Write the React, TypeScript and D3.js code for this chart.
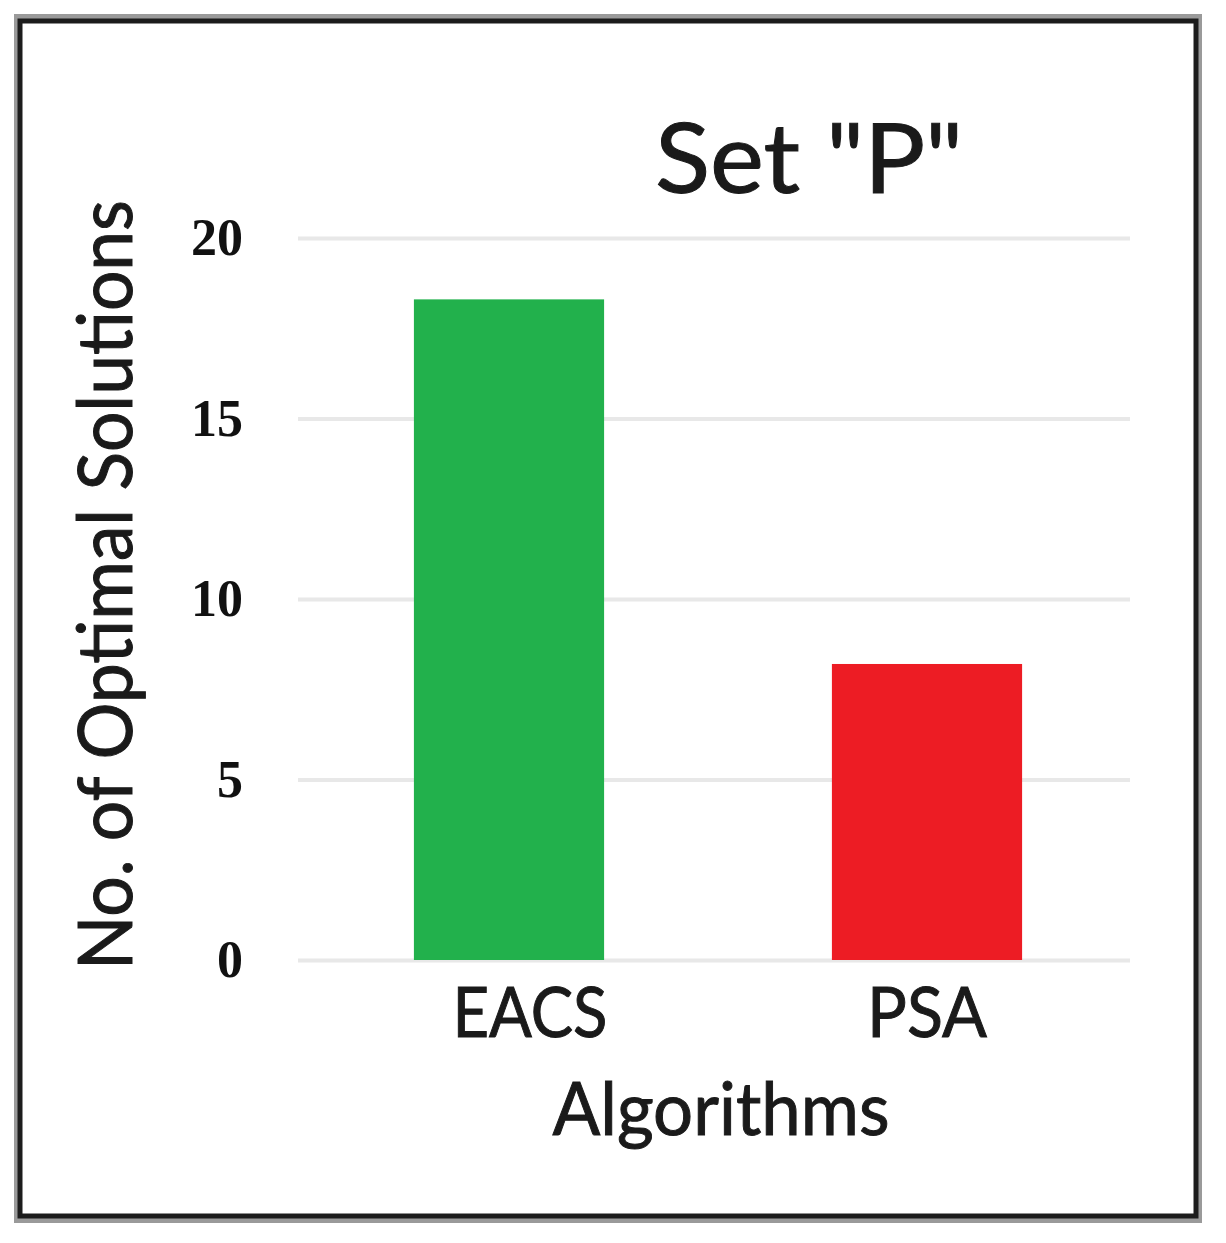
import React, { useEffect, useRef } from 'react';
import * as d3 from 'd3';

const categories = ['EACS', 'PSA'];
const values = [18.3, 8.2];
const barColors = ['#22b14c', '#ed1c24'];
const yTicks = [0, 5, 10, 15, 20];
const chartTitle = 'Set "P"';
const xTitle = 'Algorithms';
const yTitle = 'No. of Optimal Solutions';

const App = () => {
  const ref = useRef<SVGSVGElement>(null);

  useEffect(() => {
    const svg = d3.select(ref.current);
    svg.selectAll('*').remove();

    const W = 1226;
    const H = 1243;
    const sans = 'Lato, "Open Sans", sans-serif';
    const ink = '#1a1a1a';

    svg.append('rect').attr('width', W).attr('height', H).attr('fill', '#fff');

    // frame
    svg.append('rect')
      .attr('x', 18).attr('y', 18).attr('width', 1180).attr('height', 1201)
      .attr('fill', 'none').attr('stroke', '#9a9a9a').attr('stroke-width', 8);
    svg.append('rect')
      .attr('x', 20).attr('y', 21).attr('width', 1176).attr('height', 1195)
      .attr('fill', 'none').attr('stroke', '#1c1c1c').attr('stroke-width', 5);

    const x = d3.scaleBand()
      .domain(categories)
      .range([300, 1136])
      .paddingInner(0.545)
      .paddingOuter(0.2725);

    const y = d3.scaleLinear().domain([0, 20]).range([960, 238]);

    // gridlines
    const grid = svg.append('g')
      .attr('transform', 'translate(298,0)')
      .call(d3.axisLeft(y).tickValues(yTicks).tickSize(-832).tickFormat(() => ''));
    grid.select('.domain').remove();
    grid.selectAll('line').attr('stroke', '#e8e8e8').attr('stroke-width', 4);

    // tick labels
    const axis = svg.append('g')
      .attr('transform', 'translate(298,0)')
      .call(d3.axisLeft(y).tickValues(yTicks).tickSize(0).tickPadding(55));
    axis.select('.domain').remove();
    axis.selectAll('text')
      .attr('font-family', '"Liberation Serif", serif')
      .attr('font-weight', 'bold')
      .attr('font-size', 52)
      .attr('fill', '#111');

    // bars
    svg.selectAll('.bar')
      .data(categories)
      .enter()
      .append('rect')
        .attr('class', 'bar')
        .attr('x', d => x(d)!)
        .attr('y', (d, i) => y(values[i]))
        .attr('width', x.bandwidth())
        .attr('height', (d, i) => y(0) - y(values[i]))
        .attr('fill', (d, i) => barColors[i]);

    // category labels
    const labelWidths = [155, 120];
    svg.selectAll('.cat')
      .data(categories)
      .enter()
      .append('text')
        .attr('class', 'cat')
        .attr('x', d => x(d)! + x.bandwidth() / 2 + (d === 'EACS' ? 21 : 0))
        .attr('y', 1037)
        .attr('text-anchor', 'middle')
        .attr('font-family', sans)
        .attr('font-size', 70)
        .attr('fill', ink)
        .attr('stroke', ink)
        .attr('stroke-width', 1)
        .attr('textLength', (d, i) => labelWidths[i])
        .attr('lengthAdjust', 'spacingAndGlyphs')
        .text(d => d);

    // x title
    svg.append('text')
      .attr('x', 721).attr('y', 1135)
      .attr('text-anchor', 'middle')
      .attr('font-family', sans)
      .attr('font-size', 74)
      .attr('fill', ink)
      .attr('stroke', ink)
      .attr('stroke-width', 1)
      .attr('textLength', 337)
      .attr('lengthAdjust', 'spacingAndGlyphs')
      .text(xTitle);

    // y title
    svg.append('text')
      .attr('transform', 'translate(132,585) rotate(-90)')
      .attr('text-anchor', 'middle')
      .attr('font-family', sans)
      .attr('font-size', 75)
      .attr('fill', ink)
      .attr('stroke', ink)
      .attr('stroke-width', 1)
      .attr('textLength', 770)
      .attr('lengthAdjust', 'spacingAndGlyphs')
      .text(yTitle);

    // title
    svg.append('text')
      .attr('x', 809).attr('y', 193)
      .attr('text-anchor', 'middle')
      .attr('font-family', sans)
      .attr('font-size', 97)
      .attr('fill', ink)
      .attr('stroke', ink)
      .attr('stroke-width', 1)
      .attr('textLength', 308)
      .attr('lengthAdjust', 'spacingAndGlyphs')
      .text(chartTitle);
  }, []);

  return (
    <svg
      ref={ref}
      width={1226}
      height={1243}
      style={{ position: 'absolute', left: 0, top: 0, display: 'block' }}
    />
  );
};

export default App;
